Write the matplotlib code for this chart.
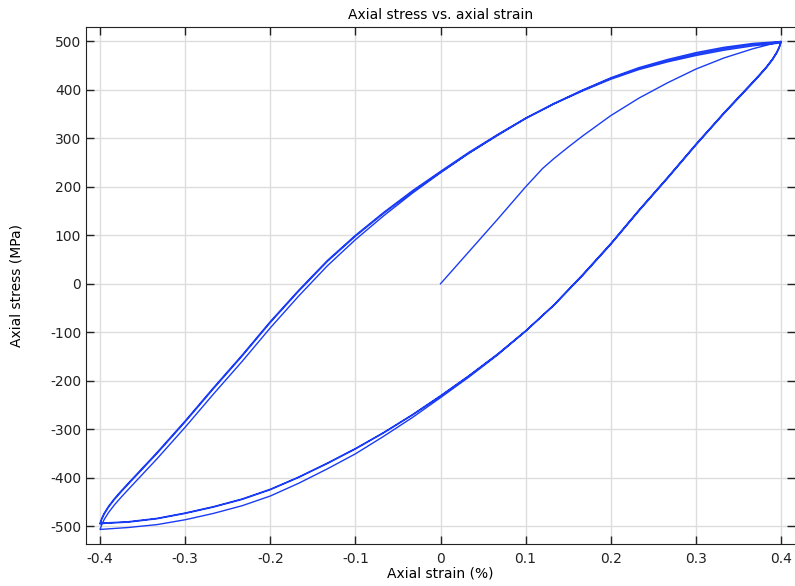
import numpy as np
import matplotlib
matplotlib.use('Agg')
import matplotlib.pyplot as plt

plt.rcParams['axes.unicode_minus'] = False
plt.rcParams['font.family'] = 'DejaVu Sans'

# first loading from the unstrained state
strain_init = [0.0, 0.067, 0.1, 0.12, 0.133, 0.15, 0.167, 0.2, 0.233, 0.267, 0.3, 0.333, 0.367, 0.4]
stress_init = [0, 133, 200, 238, 258, 282, 305, 347, 383, 415, 443, 466, 485, 500]

# reloading branches (-0.4 -> 0.4)
strain_up = [-0.4, -0.398, -0.395, -0.39, -0.383, -0.375, -0.365, -0.35, -0.333, -0.3,
             -0.267, -0.233, -0.2, -0.167, -0.133, -0.1, -0.067, -0.033, 0.0, 0.033,
             0.067, 0.1, 0.133, 0.167, 0.2, 0.233, 0.267, 0.3, 0.333, 0.367, 0.4]
stress_up_1 = [-507, -497, -486, -472, -456, -440, -421, -393, -361, -296,
               -228, -160, -91, -26, 37, 91, 140, 187, 229, 269,
               306, 341, 371, 398, 422, 442, 458, 471, 482, 491, 497]
stress_up_2 = [-496, -486, -475, -461, -445, -429, -410, -382, -350, -285,
               -217, -149, -80, -16, 46, 98, 145, 190, 230, 269,
               307, 341, 371, 399, 424, 444, 460, 474, 485, 494, 499]
stress_up_3 = [-494, -484, -473, -459, -443, -427, -408, -380, -348, -283,
               -215, -147, -78, -14, 48, 100, 147, 192, 232, 271,
               308, 342, 372, 400, 425, 446, 463, 477, 488, 496, 500]

# unloading branches (0.4 -> -0.4)
strain_down = [0.4, 0.398, 0.395, 0.39, 0.383, 0.375, 0.365, 0.35, 0.333, 0.3,
               0.267, 0.233, 0.2, 0.167, 0.133, 0.1, 0.067, 0.033, 0.0, -0.033,
               -0.067, -0.1, -0.133, -0.167, -0.2, -0.233, -0.267, -0.3, -0.333, -0.367, -0.4]
stress_down_1 = [500, 489, 478, 464, 448, 432, 413, 385, 353, 288,
                 220, 152, 83, 19, -44, -98, -147, -193, -235, -276,
                 -315, -351, -382, -412, -438, -458, -474, -487, -497, -503, -507]
stress_down_2 = [499, 487, 476, 462, 446, 430, 411, 383, 351, 286,
                 218, 150, 81, 17, -45, -98, -146, -191, -232, -271,
                 -308, -341, -371, -400, -425, -445, -461, -474, -485, -492, -495]
stress_down_3 = [500, 488, 477, 463, 447, 431, 412, 384, 352, 287,
                 219, 151, 82, 18, -44, -97, -145, -190, -231, -270,
                 -307, -340, -370, -399, -424, -444, -460, -473, -484, -491, -494]

strain = np.concatenate([strain_init, strain_down, strain_up, strain_down, strain_up,
                         strain_down, strain_up])
stress = np.concatenate([stress_init, stress_down_1, stress_up_1, stress_down_2, stress_up_2,
                         stress_down_3, stress_up_3])

xticks = [-0.4, -0.3, -0.2, -0.1, 0, 0.1, 0.2, 0.3, 0.4]
xlabels = ['-0.4', '-0.3', '-0.2', '-0.1', '0', '0.1', '0.2', '0.3', '0.4']
yticks = [-500, -400, -300, -200, -100, 0, 100, 200, 300, 400, 500]

fig = plt.figure(figsize=(7.95, 5.86), dpi=100)
ax = fig.add_axes([0.1082, 0.0717, 0.8918, 0.8823])
ax.plot(strain, stress, color='#1a3cf5', lw=1.0)

ax.set_xlim(-0.4165, 0.4165)
ax.set_ylim(-537, 530)
ax.set_xticks(xticks)
ax.set_xticklabels(xlabels)
ax.set_yticks(yticks)
ax.grid(True, color='#dddddd', lw=1.0)
ax.set_axisbelow(True)
ax.tick_params(direction='in', length=6, width=1, top=True, right=True,
               labelsize=10, colors='#222222')
ax.tick_params(axis='x', pad=5.5)
ax.tick_params(axis='y', pad=3.5)
for s in ax.spines.values():
    s.set_color('#222222')
ax.spines['right'].set_visible(False)

ax.set_title('Axial stress vs. axial strain', fontsize=10, pad=5.5)
ax.set_xlabel('Axial strain (%)', fontsize=10, labelpad=0.5)
ax.set_ylabel('Axial stress (MPa)', fontsize=10, labelpad=19)

plt.savefig('out.png', dpi=100)
